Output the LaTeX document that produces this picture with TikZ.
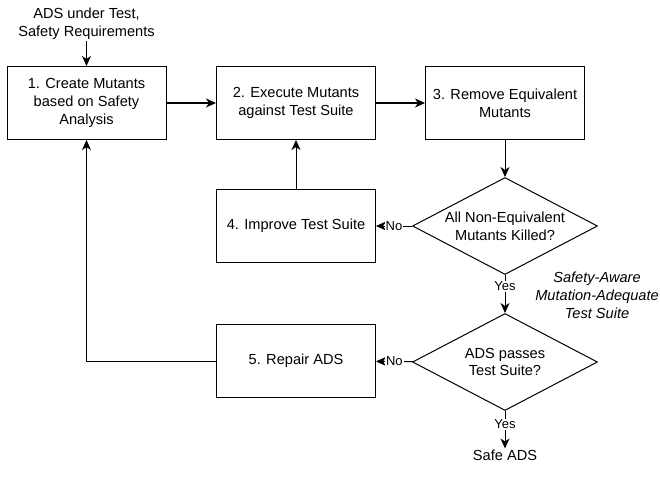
\documentclass[tikz,border=0pt]{standalone}
\usepackage{fontspec}
\setmainfont{Liberation Sans}
\usetikzlibrary{shapes.geometric,arrows.meta}

\begin{document}
\begin{tikzpicture}[
    x = 1pt, y = -1pt,
    font = \fontsize{14.6}{17.8}\selectfont,
    stepbox/.style = {draw, line width = 1pt, minimum width = 159pt,
        minimum height = 73pt, align = center, inner sep = 2pt},
    decision/.style = {draw, line width = 1pt, diamond, inner sep = 0pt,
        minimum width = 185pt, minimum height = 97pt},
    flow/.style = {line width = 1pt,
        -{Stealth[length = 10pt, width = 9pt, inset = 3pt]}},
    answer/.style = {fill = white, inner sep = 1pt,
        font = \fontsize{13}{15}\selectfont}]

\useasboundingbox (0,0) rectangle (660,476);

% boxes
\path (86.5,103) node[stepbox] (create) {1. Create Mutants\\based on Safety\\Analysis}
      (296,103) node[stepbox] (execute) {2. Execute Mutants\\against Test Suite}
      (505,103) node[stepbox] (remove) {3. Remove Equivalent\\Mutants}
      (296,226) node[stepbox] (improve) {4. Improve Test Suite}
      (296,361) node[stepbox] (repair) {5. Repair ADS};

% decisions
\path (505,226) node[decision] (killed) {}
      (505,362) node[decision] (passes) {};
\path (killed) node[align = center] {All Non-Equivalent\\Mutants Killed?}
      (passes) node[align = center] {ADS passes\\Test Suite?};

% inputs and outputs
\path (86.5,24) node[align = center, inner sep = 1pt] (input) {ADS under Test,\\Safety Requirements}
      (505,455) node[inner sep = 1pt] (safe) {Safe ADS}
      (597,295) node[align = center, font = \fontsize{14.6}{17.8}\selectfont\itshape]
          (adequate) {Safety-Aware\\Mutation-Adequate\\Test Suite};

% connectors
\draw[flow] (input) -- (create);
\draw[flow] (create) -- (execute);
\draw[flow] (execute) -- (remove);
\draw[flow] (remove) -- (killed);
\draw[flow] (improve) -- (execute);
\draw[flow] (killed) -- node[answer] {No} (improve);
\draw[flow] (killed) -- node[answer, pos = 0.3] {Yes} (passes);
\draw[flow] (passes) -- node[answer] {No} (repair);
\draw[flow] (passes) -- node[answer, pos = 0.35] {Yes} (safe);
\draw[flow] (repair) -| (create);
\end{tikzpicture}
\end{document}
